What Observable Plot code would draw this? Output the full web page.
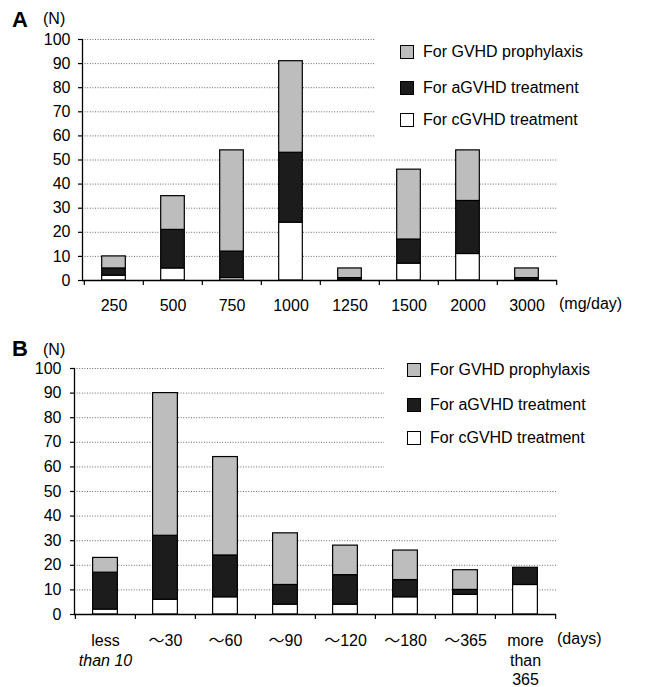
<!DOCTYPE html>
<html><head><meta charset="utf-8">
<script src="https://cdn.jsdelivr.net/npm/d3@7"></script>
<script src="https://cdn.jsdelivr.net/npm/@observablehq/plot@0.6"></script>
<style>
body{margin:0;background:#fff;font-family:"Liberation Sans",Arial,"Noto Sans CJK JP",sans-serif;}
#wrap{position:relative;width:646px;height:687px;overflow:hidden;}
#wrap svg{position:absolute;left:0;}
.abs{position:absolute;color:#000;white-space:nowrap;line-height:1;font-size:16px;}
.legend{position:absolute;background:#fff;}
.sw{position:absolute;width:14px;height:14px;border:1px solid #000;box-sizing:border-box;}
</style></head><body><div id="wrap"></div>
<script>
// Panel A: daily dose (mg/day)
const doseCats = ["250","500","750","1000","1250","1500","2000","3000"];
const doseC = [2,5,1,24,0,7,11,0];
const doseA = [3,16,11,29,1,10,22,1];
const doseP = [5,14,42,38,4,29,21,4];
// Panel B: duration (days)
const durCats = ["less\nthan 10","〜30","〜60","〜90","〜120","〜180","〜365","more\nthan\n365"];
const durC = [2,6,7,4,4,7,8,12];
const durA = [15,26,17,8,12,7,2,7];
const durP = [6,58,40,21,12,12,8,0];

const yTicks = [0,10,20,30,40,50,60,70,80,90,100];
const S_P = "For GVHD prophylaxis", S_A = "For aGVHD treatment", S_C = "For cGVHD treatment";
const series = [S_P, S_A, S_C];
const colors = ["#bdbdbd", "#1c1c1c", "#ffffff"];
const FONT = '"Liberation Sans", Arial, "Noto Sans CJK JP", sans-serif';

function panel({cats, c, a, p, ml, mr, mt, mb, height, barW, yPad, labelPad}) {
  const width = 646;
  const rows = [];
  cats.forEach((cat, i) => {
    rows.push({cat, s: S_C, v: c[i]}, {cat, s: S_A, v: a[i]}, {cat, s: S_P, v: p[i]});
  });
  const step = (width - ml - mr) / cats.length;
  const inset = (step - barW) / 2;
  return Plot.plot({
    width, height, marginLeft: ml, marginRight: mr, marginTop: mt, marginBottom: mb,
    style: {fontSize: "16px", fontFamily: FONT, color: "#000", background: "transparent", overflow: "visible"},
    x: {domain: cats, padding: 0},
    y: {domain: [0, 100]},
    color: {domain: series, range: colors},
    marks: [
      Plot.gridY(yTicks.slice(1), {stroke: "#444", strokeOpacity: 1, strokeWidth: 0.8, strokeDasharray: "1,1.6"}),
      Plot.barY(rows, {x: "cat", y: "v", fill: "s", order: [S_C, S_A, S_P], stroke: "#000", strokeWidth: 1.2, insetLeft: inset, insetRight: inset}),
      Plot.ruleY([0], {stroke: "#000", strokeWidth: 1.3}),
      Plot.frame({anchor: "left", stroke: "#000", strokeWidth: 1.3}),
      Plot.axisY({ticks: yTicks, tickSize: 4, tickPadding: yPad, label: null, fontSize: 16, strokeWidth: 1.2}),
      Plot.axisX({tickSize: 5, fill: "none", label: null, dx: -step / 2, strokeWidth: 1.2}),
      Plot.axisX({ticks: [cats[cats.length - 1]], tickSize: 5, fill: "none", label: null, dx: step / 2, strokeWidth: 1.2}),
      Plot.axisX({tickSize: 0, tickPadding: labelPad, label: null, fontSize: 16, lineHeight: 1.22})
    ]
  });
}

const wrap = document.getElementById("wrap");
const svgA = panel({cats: doseCats, c: doseC, a: doseA, p: doseP, ml: 82, mr: 89, mt: 39, mb: 40, height: 320, barW: 24, yPad: 8, labelPad: 17});
svgA.style.top = "0px";
wrap.appendChild(svgA);
const svgB = panel({cats: durCats, c: durC, a: durA, p: durP, ml: 74, mr: 90, mt: 48, mb: 73, height: 367, barW: 25, yPad: 9, labelPad: 18});
svgB.style.top = "320px";
wrap.appendChild(svgB);

// italic "than 10"
wrap.querySelectorAll("tspan, text").forEach(el => {
  if (el.children.length === 0 && el.textContent === "than 10") el.setAttribute("font-style", "italic");
});

function addText(txt, x, top, opts = {}) {
  const d = document.createElement("div");
  d.className = "abs";
  d.textContent = txt;
  d.style.left = x + "px";
  d.style.top = top + "px";
  if (opts.size) d.style.fontSize = opts.size + "px";
  if (opts.bold) d.style.fontWeight = "bold";
  wrap.appendChild(d);
  return d;
}
addText("A", 12, 8.5, {size: 22, bold: true});
addText("(N)", 43, 10.5);
addText("(mg/day)", 559, 296);
addText("B", 12, 338, {size: 22, bold: true});
addText("(N)", 43, 341.5);
addText("(days)", 557, 631);

function legend(left, top, w, h, swX, txtX, centers) {
  const bg = document.createElement("div");
  bg.className = "legend";
  Object.assign(bg.style, {left: left + "px", top: top + "px", width: w + "px", height: h + "px"});
  wrap.appendChild(bg);
  series.forEach((s, i) => {
    const sw = document.createElement("div");
    sw.className = "sw";
    Object.assign(sw.style, {left: swX + "px", top: (centers[i] - 7) + "px", background: colors[i]});
    wrap.appendChild(sw);
    addText(s, txtX, centers[i] - 7.8);
  });
}
legend(375, 30, 271, 111, 400, 423, [52, 88, 120]);
legend(384, 352, 262, 120, 407, 430, [370, 405, 438]);
</script>
</body></html>
